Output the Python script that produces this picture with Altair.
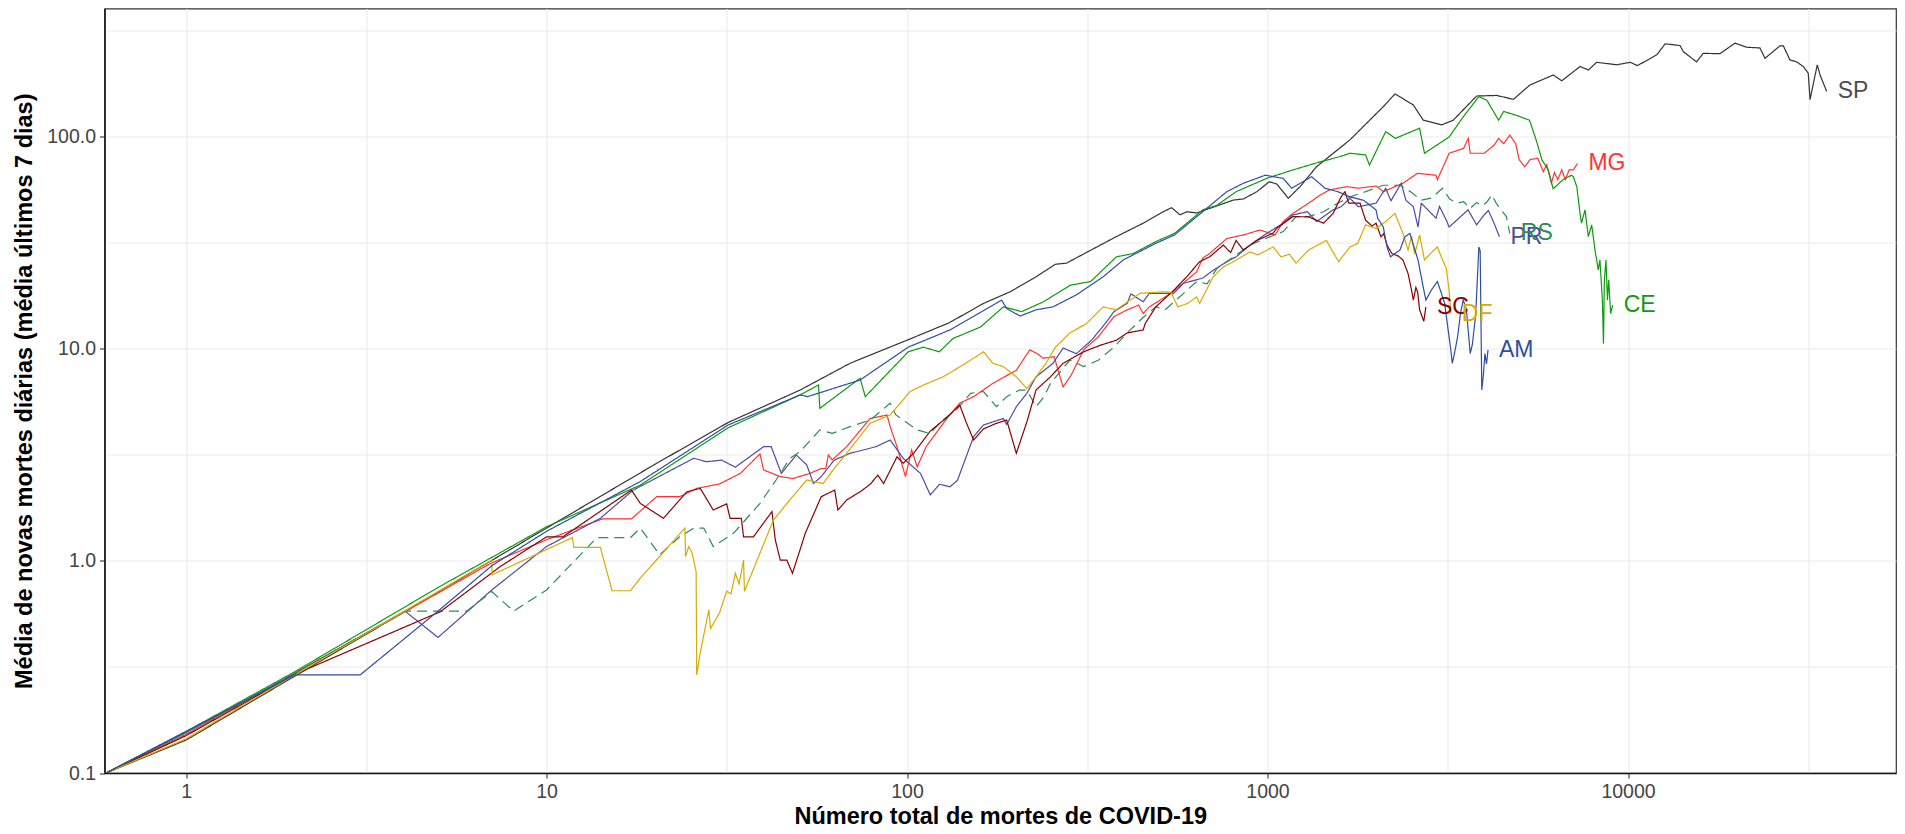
import altair as alt
import pandas as pd

# ---------------- data ----------------
SP_x = [0.6, 1, 2, 4, 7, 10, 20, 31.9, 50.5, 69.5, 100, 131, 163, 193, 228, 258, 277, 318, 381, 452,
        514, 542, 572, 597, 636, 723, 804, 857, 934, 1012, 1061, 1142, 1231, 1368, 1693, 2095, 2258,
        2538, 2704, 3041, 3275, 3803, 4323, 4810, 5348, 6206, 6549, 7362, 7762, 8188, 9307, 10140,
        10620, 12020, 12680, 13940, 14230, 15490, 16170, 17990, 19810, 21340, 23220, 23990, 26400,
        26970, 28130, 29370, 30630, 31620, 31990, 32680, 33500, 34100, 35580]
SP_y = [0.1, 0.143, 0.286, 0.571, 1.0, 1.43, 2.86, 4.5, 6.4, 8.56, 11.0, 13.3, 16.4, 18.6, 21.9, 25.1,
        25.4, 28.8, 33.9, 39.2, 44.4, 46.4, 42.9, 44.4, 43.8, 47.3, 50.4, 51, 55.2, 61.5, 60, 51.4,
        58.3, 72.4, 96.9, 139, 159.6, 141.6, 120, 114, 120, 156, 157, 150.5, 176, 196, 184, 215, 207,
        225, 219, 225, 217, 244, 275, 270, 253, 226, 248, 247, 277, 265, 263, 235, 269, 269, 231, 226,
        215, 200, 150, 179, 219, 196, 164]

MG_x = [0.6, 1, 2, 4, 7, 10, 14.3, 17.2, 20.2, 23.4, 26.1, 30.2, 34.5, 39.1, 40, 44.5, 48.3, 53.8,
        57.8, 59.5, 60.5, 62, 68, 79, 88, 89.8, 93.8, 99, 103, 106.7, 113, 128, 140, 153, 173, 201,
        219, 230, 238.7, 256, 265.6, 271, 285, 309, 339, 375, 408, 439, 452, 470, 540, 636, 661, 691,
        771, 857, 953, 1050, 1105, 1176, 1300, 1402, 1487, 1658, 1786, 2000, 2095, 2375, 2607, 2934,
        2960, 3190, 3498, 3605, 3650, 3990, 4255, 4375, 4520, 4700, 4880, 4990, 5170, 5350, 5620,
        5820, 5950, 6130, 6250, 6390, 6550, 6700, 6870, 7050, 7240]
MG_y = [0.1, 0.152, 0.295, 0.57, 0.975, 1.26, 1.58, 1.58, 2.01, 2.01, 2.20, 2.31, 2.59, 3.20, 2.69,
        2.50, 2.45, 2.59, 2.73, 2.73, 3.16, 3.0, 3.46, 4.7, 4.88, 4.30, 3.46, 2.50, 3.34, 2.78, 3.46,
        4.62, 5.55, 5.96, 6.88, 7.94, 9.9, 9.5, 9.04, 9.2, 7.4, 6.63, 7.5, 9.9, 11.4, 14.2, 15.3, 16.1,
        14.7, 15.8, 18.3, 23.1, 26.8, 28.2, 33.2, 34.5, 36.4, 34.5, 39.9, 43.6, 48.7, 53.3, 56.3, 58.3,
        57.3, 58.7, 55.2, 60.5, 67.4, 66.0, 62.9, 83.8, 88.3, 98.5, 83.8, 83.8, 91.6, 98.5, 93.0, 102,
        93, 78.2, 72.4, 78.2, 79.4, 68.6, 74, 60.5, 68, 62.9, 70, 63, 70, 69.9, 75]

CE_x = [0.6, 1, 2, 5, 10, 18.2, 31.9, 50.5, 56.8, 57.3, 74.1, 76.6, 100.8, 111, 123, 134, 160, 185,
        208, 239, 284, 323, 381, 424, 490, 552, 661, 724, 818, 1000, 1176, 1402, 1593, 1693, 1871,
        1918, 2127, 2264, 2642, 2725, 3190, 3498, 3857, 4060, 4375, 4520, 4930, 5330, 5560, 5770,
        6010, 6200, 6610, 6970, 7050, 7210, 7360, 7430, 7600, 7760, 7930, 8100, 8270, 8360, 8490,
        8550, 8600, 8690, 8770, 8840, 8950, 9070]
CE_y = [0.1, 0.157, 0.30, 0.75, 1.45, 2.28, 4.25, 6.07, 6.76, 5.25, 7.28, 5.96, 9.7, 10.2, 9.7, 11.2,
        12.7, 15.8, 15.0, 16.7, 20.0, 20.8, 27.2, 28.2, 32.1, 35.1, 45.3, 47.6, 55.2, 64, 69.9, 76.4,
        80.9, 83.8, 82.3, 73.7, 106, 98.5, 110, 83.8, 100, 125, 155, 149, 120, 132, 126, 120, 97, 78,
        69.9, 57, 63, 66, 65, 58.3, 43.6, 39.2, 45.3, 33.9, 38.5, 29.3, 23.6, 26.3, 17.0, 10.6, 21.2,
        26.3, 17.0, 21.2, 14.7, 16.1]

PR_x = [0.6, 1, 2, 4.05, 5.0, 7.05, 10, 14.1, 17.4, 25.6, 27.8, 30.6, 33.4, 40, 42, 44.8, 49.3, 52.7,
        55, 57.8, 62.8, 69.5, 82, 89.8, 97.6, 109, 116, 123, 131.6, 138, 153, 163, 185, 189, 201, 215,
        228, 254, 271, 295, 325, 355, 375, 408, 418, 452, 470, 549, 585, 661, 707, 771, 818, 894, 980,
        1105, 1176, 1290, 1368, 1520, 1600, 1693, 1786, 2000, 2127, 2200, 2350, 2420, 2538, 2615,
        2670, 2934, 3000, 3133, 3190, 3600, 3803, 3990, 4100, 4250, 4400]
PR_y = [0.1, 0.155, 0.295, 0.58, 0.436, 0.73, 1.17, 1.59, 2.16, 3.05, 2.94, 2.99, 2.77, 3.46, 3.46,
        2.59, 3.16, 2.84, 2.32, 2.50, 2.99, 3.22, 3.46, 3.72, 3.05, 2.59, 2.05, 2.3, 2.24, 2.4, 3.86,
        4.38, 4.70, 4.4, 5.34, 6.18, 7.39, 8.56, 10.1, 9.5, 11.0, 13.2, 15.0, 16.4, 18.2, 16.7, 18.3,
        18.3, 20.4, 21.6, 23.5, 25.8, 27.2, 30.9, 34.5, 39.2, 42.9, 44.4, 39.9, 45.3, 46.9, 51.4, 46.9,
        48.7, 57.3, 50, 60.5, 50.3, 46.9, 37.6, 48.7, 41.4, 47, 40.5, 37.6, 45.3, 38.5, 42.9, 45, 39.2,
        33.8]

RS_x = [0.6, 1, 2, 4.05, 6.0, 7.05, 8.1, 10, 13.8, 17.1, 18.2, 20.6, 23.4, 25.6, 27.3, 29, 33, 39.1,
        43.6, 47.3, 50.5, 57.3, 62, 69.5, 79, 89.8, 93, 106.7, 116, 125, 137, 150, 163, 177, 189, 205,
        215, 228, 240, 250, 283, 309, 340, 375, 416, 450, 490, 520, 585, 636, 680, 724, 800, 894, 980,
        1105, 1200, 1300, 1430, 1566, 1693, 1871, 2095, 2330, 2500, 2670, 2850, 3060, 3200, 3360,
        3500, 3650, 3800, 3950, 4060, 4190, 4300, 4375, 4600, 4700]
RS_y = [0.1, 0.155, 0.295, 0.58, 0.58, 0.717, 0.58, 0.73, 1.29, 1.29, 1.43, 1.07, 1.30, 1.43, 1.43,
        1.17, 1.35, 1.87, 2.45, 3.05, 3.28, 4.15, 4.0, 4.30, 4.62, 5.55, 4.9, 4.15, 3.99, 4.6, 5.15,
        6.18, 6.3, 5.34, 5.96, 6.4, 6.4, 5.34, 5.96, 6.88, 8.87, 8.26, 8.87, 10.2, 12.3, 14.0, 15.8,
        15.3, 18.3, 20.8, 20.3, 24.0, 27.0, 30.9, 33.0, 35.8, 42.1, 42.1, 44.4, 48.7, 52.2, 55.2, 59.2,
        59.2, 55, 50.3, 51.5, 57.3, 51, 48.7, 49.5, 46, 49, 47.5, 49.3, 53.3, 49, 46.9, 42.1, 35.1]

SC_x = [0.6, 1, 2.03, 5.07, 7.43, 10, 11.1, 17.2, 18.2, 21.1, 24.5, 26.7, 29, 31.6, 32.3, 34.7, 35.2,
        37.5, 42.2, 43.1, 44.5, 46.4, 48.1, 50.5, 52.2, 57.8, 63, 64.3, 68, 74.1, 79, 83, 86.1, 93.8,
        97.6, 104.3, 116, 128, 140, 146, 153, 163, 177, 189, 201, 215, 228, 250, 271, 309, 343, 381,
        408, 452, 458, 490, 549, 597, 648, 691, 754, 790, 818, 857, 934, 1037, 1061, 1176, 1300, 1430,
        1520, 1600, 1640, 1680, 1806, 1871, 1950, 2000, 2064, 2100, 2145, 2213, 2300, 2375, 2454,
        2510, 2538, 2580, 2610, 2642, 2713, 2750]
SC_y = [0.1, 0.15, 0.295, 0.576, 0.94, 1.30, 1.30, 2.16, 1.87, 1.59, 2.12, 2.20, 1.74, 1.86, 1.59,
        1.59, 1.30, 1.30, 1.71, 1.26, 1.01, 1.01, 0.875, 1.13, 1.35, 2.01, 2.16, 1.74, 1.94, 2.12, 2.3,
        2.54, 2.32, 3.10, 2.89, 3.22, 4.1, 4.7, 5.44, 4.5, 3.72, 4.2, 4.46, 4.62, 3.22, 4.53, 6.41,
        7.39, 8.56, 9.7, 10.4, 11.0, 11.9, 12.3, 13.2, 15.8, 18.9, 21.9, 25.8, 27.2, 30.9, 28.5, 32.5,
        29.3, 32.5, 35.2, 37.1, 42.1, 42, 39.2, 43.6, 52.2, 55.2, 48.7, 48.7, 40.5, 38, 39.2, 33.8, 35,
        30.9, 28.2, 27.5, 26.3, 22.7, 18.9, 17.0, 19.5, 18.5, 15.3, 13.5, 15.8]

DF_x = [0.6, 1, 2, 4, 7.05, 7.06, 11.8, 11.9, 14.1, 15.2, 17.1, 18.2, 24.2, 24.3, 24.8, 25.3, 26.0,
        26.1, 26.7, 28.2, 28.5, 30.2, 31.6, 32.5, 33.4, 34.2, 35.2, 35.4, 42.6, 47.3, 52.7, 58.5, 62.8,
        68, 79, 89.8, 102, 111, 126, 143, 163, 173, 185, 201, 215, 228, 243, 258, 283, 315, 350, 380,
        416, 443, 514, 540, 564, 600, 636, 648, 707, 754, 804, 894, 940, 1037, 1090, 1150, 1200, 1300,
        1456, 1575, 1693, 1780, 1871, 2000, 2127, 2258, 2375, 2454, 2510, 2560, 2642, 2725, 2850,
        2960, 3040, 3133, 3190, 3225]
DF_y = [0.1, 0.145, 0.29, 0.575, 1.01, 0.86, 1.29, 1.16, 1.16, 0.724, 0.724, 0.83, 1.43, 1.05, 1.17,
        1.1, 0.89, 0.29, 0.37, 0.59, 0.48, 0.57, 0.72, 0.70, 0.875, 0.78, 1.01, 0.72, 1.56, 1.94, 2.41,
        2.32, 2.73, 3.22, 4.46, 4.88, 6.3, 6.76, 7.39, 8.41, 9.7, 8.56, 8.26, 7.39, 6.51, 7.39, 8.56,
        10.2, 11.9, 13.2, 15.8, 15.3, 17.0, 18.3, 18.6, 18.5, 15.8, 16.4, 17.6, 16.4, 21.9, 24.4, 25.8,
        28.7, 27.8, 30.3, 27.2, 28, 25.4, 29.3, 32.5, 25.8, 30.3, 31.5, 38.5, 37, 39.9, 43.6, 35.1,
        29.3, 34, 28, 34.5, 26.3, 28.5, 30.3, 27, 24, 18.9, 14.7]

AM_x = [0.6, 1, 2, 3.04, 5, 7.05, 10, 18.2, 31.9, 50.5, 53, 74.1, 100.8, 131.6, 183, 189, 206, 228,
        254, 295, 350, 398, 490, 552, 661, 771, 857, 986, 1105, 1167, 1325, 1444, 1566, 1693, 1846,
        2000, 2021, 2095, 2145, 2193, 2330, 2405, 2483, 2615, 2670, 2725, 2750, 2850, 2960, 3030,
        3100, 3160, 3225, 3255, 3300, 3370, 3430, 3490, 3560, 3650, 3700, 3780, 3857, 3890, 3930,
        3970, 4010, 4050, 4090]
AM_y = [0.1, 0.157, 0.29, 0.29, 0.58, 0.95, 1.38, 2.37, 4.38, 6.07, 5.96, 7.14, 10.2, 12.3, 17.0,
        15.5, 14.3, 15.3, 15.8, 18.0, 21.9, 26.3, 31.5, 34.5, 44.4, 55.2, 60.5, 66, 63.8, 57.3, 65,
        57.3, 55.2, 52.2, 50.3, 45.3, 41.4, 37.6, 30.3, 27.2, 29.3, 33.8, 35.1, 26.3, 21.9, 18.3, 17.0,
        19.0, 20.8, 18.5, 16.4, 12.8, 9.9, 8.56, 9.5, 11.5, 14.7, 17.0, 15.5, 9.52, 10.5, 14.5, 30.3,
        29, 6.41, 7.5, 9.52, 8.5, 9.9]

states = ["SP", "MG", "CE", "PR", "RS", "SC", "DF", "AM"]
line_colors = ["#333333", "#FF3333", "#0E9A0E", "#4F4AA0", "#2E8B57", "#8B0000", "#D9AA00", "#2D4EA2"]
label_colors = ["#4D4D4D", "#FF3333", "#0E9A0E", "#4F4AA0", "#2E8B57", "#8B0000", "#D9AA00", "#2D4EA2"]
dashes = [[1, 0], [1, 0], [1, 0], [1, 0], [10, 6], [1, 0], [1, 0], [1, 0]]

x_ticks = [1, 3.16228, 10, 31.6228, 100, 316.228, 1000, 3162.28, 10000, 31622.8]
y_ticks = [0.1, 0.316228, 1, 3.16228, 10, 31.6228, 100, 316.228]

# ---------------- build table ----------------
series = {"SP": (SP_x, SP_y), "MG": (MG_x, MG_y), "CE": (CE_x, CE_y), "PR": (PR_x, PR_y),
          "RS": (RS_x, RS_y), "SC": (SC_x, SC_y), "DF": (DF_x, DF_y), "AM": (AM_x, AM_y)}
rows = []
for uf, (xs, ys) in series.items():
    assert len(xs) == len(ys), uf
    for i, (a, b) in enumerate(zip(xs, ys)):
        rows.append({"uf": uf, "mortes": a, "media": b, "ordem": i})
df = pd.DataFrame(rows)
last = df.groupby("uf").tail(1).copy()
last["cor"] = last["uf"].map(dict(zip(states, label_colors)))

MAJOR = "abs(log(datum.value)/LN10 - round(log(datum.value)/LN10)) < 0.01"

x_scale = alt.Scale(type="log", domain=[0.594, 55390], nice=False, zero=False)
y_scale = alt.Scale(type="log", domain=[0.1, 403.6], nice=False, zero=False)

x_axis = alt.Axis(
    values=x_ticks,
    labelExpr=f"({MAJOR}) ? format(datum.value, 'd') : ''",
    tickOpacity={"condition": {"test": MAJOR, "value": 1}, "value": 0},
    title="Número total de mortes de COVID-19",
    labelFlush=False, labelOverlap=False,
    tickSize=5, labelPadding=4, titlePadding=4,
)
y_axis = alt.Axis(
    values=y_ticks,
    labelExpr=f"({MAJOR}) ? format(datum.value, '.1f') : ''",
    tickOpacity={"condition": {"test": MAJOR, "value": 1}, "value": 0},
    title="Média de novas mortes diárias (média últimos 7 dias)",
    labelFlush=False, labelOverlap=False,
    tickSize=5, labelPadding=4, titlePadding=10,
)

lines = alt.Chart(df).mark_line(strokeWidth=1.2, clip=True).encode(
    x=alt.X("mortes:Q", scale=x_scale, axis=x_axis),
    y=alt.Y("media:Q", scale=y_scale, axis=y_axis),
    color=alt.Color("uf:N", scale=alt.Scale(domain=states, range=line_colors), legend=None),
    strokeDash=alt.StrokeDash("uf:N", scale=alt.Scale(domain=states, range=dashes), legend=None),
    order=alt.Order("ordem:Q"),
)

labels = alt.Chart(last).mark_text(
    align="left", baseline="middle", dx=11, fontSize=23, font="Liberation Sans"
).encode(
    x=alt.X("mortes:Q", scale=x_scale),
    y=alt.Y("media:Q", scale=y_scale),
    text="uf:N",
    color=alt.Color("cor:N", scale=None),
)

chart = (
    alt.layer(lines, labels)
    .resolve_scale(color="independent")
    .properties(
        width=1791.5, height=764.5,
        padding={"left": 96.5, "top": 0.5, "right": 1, "bottom": 53},
        autosize=alt.AutoSizeParams(type="none"),
        background="white",
    )
    .configure_view(stroke="#333333", strokeWidth=1.2)
    .configure_axis(
        gridColor="#EBEBEB", gridWidth=1.1,
        domainColor="#1A1A1A", domainWidth=1.6,
        tickColor="#333333", tickWidth=1.1,
        labelFont="Liberation Sans", labelFontSize=19.5, labelColor="#444444",
        titleFont="Liberation Sans", titleFontSize=23.5, titleFontWeight="bold", titleColor="#000000",
    )
)

chart.save("out.html", embed_options={"renderer": "svg", "actions": False})
